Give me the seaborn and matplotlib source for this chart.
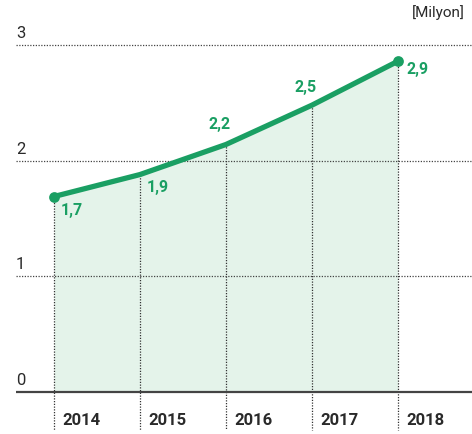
import pandas as pd
import matplotlib
matplotlib.use("Agg")
import matplotlib.pyplot as plt
import seaborn as sns

years = [2014, 2015, 2016, 2017, 2018]
values = [1.69, 1.88, 2.14, 2.48, 2.86]
value_labels = ["1,7", "1,9", "2,2", "2,5", "2,9"]
y_ticks = [0, 1, 2, 3]
unit_label = "[Milyon]"

green = "#1a9f63"
fill_green = "#e4f3ea"
grid_grey = "#444444"

sns.set_theme(style="white")
plt.rcParams["font.family"] = ["Roboto", "DejaVu Sans"]

df = pd.DataFrame({"year": years, "value": values})

fig = plt.figure(figsize=(4.72, 4.34), dpi=100)
ax = fig.add_axes([16 / 472, 0, 456 / 472, 1])
ax.set_xlim(2014 - 38 / 86, 2018 + 74 / 86)
ax.set_ylim(-42 / 115.7, 3 + 45 / 115.7)
ax.axis("off")

# area under the line
ax.fill_between(df["year"], 0, df["value"], color=fill_green, zorder=1, lw=0)

# horizontal dotted grid and y labels
for t in y_ticks:
    if t > 0:
        ax.axhline(t, color=grid_grey, ls=(0, (1, 1.2)), lw=0.9, zorder=2)
    ax.text(0.0, t + 0.035, str(t), transform=ax.get_yaxis_transform(),
            fontsize=12, color="#2a2a2a", va="bottom", ha="left")

# vertical dotted lines from point down past the axis
for x, v in zip(years, values):
    ax.plot([x, x], [v, -0.33], color="#333333", ls=(0, (1, 1.2)), lw=0.9, zorder=2)

# baseline
ax.axhline(0, color=grid_grey, lw=1.6, zorder=3)

sns.lineplot(data=df, x="year", y="value", color=green, lw=3.8, ax=ax, zorder=4,
             solid_capstyle="round")
ends = df.iloc[[0, -1]]
ax.scatter(ends["year"], ends["value"], s=60, color=green, zorder=5, lw=0)

# value labels
offsets = [(0.21, -0.12), (0.21, -0.11), (-0.08, 0.17), (-0.08, 0.15), (0.23, -0.07)]
for x, v, lab, (dx, dy) in zip(years, values, value_labels, offsets):
    ax.text(x + dx, v + dy, lab, color=green, fontsize=11.5, fontweight="bold",
            ha="center", va="center", zorder=6)

# year labels
for x in years:
    ax.text(x + 0.1, -0.245, str(x), fontsize=12, fontweight="bold",
            color="#2a2a2a", ha="left", va="center")

ax.text(0.985, 3.28, unit_label, transform=ax.get_yaxis_transform(),
        fontsize=11, color="#2a2a2a", ha="right", va="center")

fig.savefig("out.png", dpi=100)
